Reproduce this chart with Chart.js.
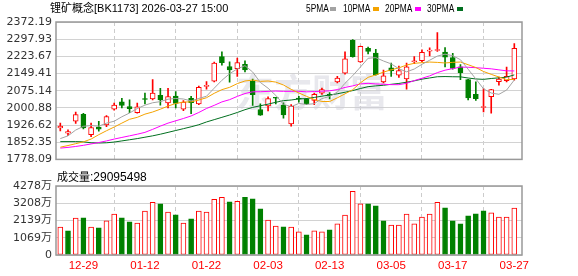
<!DOCTYPE html>
<html>
<head>
<meta charset="utf-8">
<script src="https://cdn.jsdelivr.net/npm/chart.js@4.4.1/dist/chart.umd.min.js"></script>
<style>
  html, body { margin: 0; padding: 0; background: #fff; }
  #wrap { position: relative; width: 578px; height: 276px; overflow: hidden; }
  canvas { position: absolute; left: 0; }
  #kline { top: 0; }
  #vol { top: 170px; }
  .txt { position: absolute; white-space: nowrap; color: #000; font-size: 11px; line-height: 12px;
         font-family: "Liberation Sans", "Noto Sans CJK SC", sans-serif; }
  .leg { transform: scaleX(0.76); transform-origin: left top; }
  .sw { position: absolute; width: 6px; height: 4px; }
</style>
</head>
<body>
<div id="wrap">
  <canvas id="kline" width="578" height="170"></canvas>
  <canvas id="vol" width="578" height="106"></canvas>
  <div class="txt" style="left:50px; top:2px">锂矿概念[BK1173] 2026-03-27 15:00</div>
  <div id="legend"></div>
  <div class="txt" style="left:57px; top:171px">成交量<span style="font-size:12px">:<span id="lastVol"></span></span></div>
</div>
<script>
// trading days shown
const DATES = [
  "12-24", "12-25", "12-26", "12-29", "12-30", "12-31", "01-05", "01-06", "01-07", "01-08",
  "01-09", "01-12", "01-13", "01-14", "01-15", "01-16", "01-19", "01-20", "01-21", "01-22",
  "01-23", "01-26", "01-27", "01-28", "01-29", "01-30", "02-02", "02-03", "02-04", "02-05",
  "02-06", "02-09", "02-10", "02-11", "02-12", "02-13", "02-24", "02-25", "02-26", "02-27",
  "03-02", "03-03", "03-04", "03-05", "03-06", "03-09", "03-10", "03-11", "03-12", "03-13",
  "03-16", "03-17", "03-18", "03-19", "03-20", "03-23", "03-24", "03-25", "03-26", "03-27"
];

const OPEN = [
  1913.8, 1891.6, 1942.9, 1973.4, 1884.7, 1918.0, 1927.7, 1995.5, 2027.4, 2006.6,
  1980.3, 2041.2, 2039.8, 2055.1, 2021.8, 2052.3, 1995.5, 2042.6, 2017.7, 2093.9,
  2116.0, 2222.6, 2179.7, 2170.0, 2189.4, 2116.0, 1994.0, 2009.5, 2045.0, 2013.0,
  1931.8, 2041.2, 2038.5, 2032.9, 2064.8, 2059.2, 2113.2, 2150.6, 2293.3, 2199.1,
  2258.6, 2237.9, 2113.2, 2174.2, 2142.3, 2125.7, 2200.5, 2204.6, 2246.2, 2249.0,
  2242.0, 2218.5, 2178.3, 2122.9, 2059.2, 2002.4, 2049.5, 2114.6, 2118.8, 2125.7
];
const HIGH = [
  1934.6, 1905.5, 1983.1, 1977.5, 1934.6, 1942.9, 1967.8, 2021.8, 2042.6, 2035.7,
  2021.8, 2064.8, 2122.9, 2085.5, 2085.5, 2071.7, 2032.9, 2050.9, 2095.2, 2114.6,
  2199.1, 2243.4, 2200.5, 2215.7, 2204.6, 2125.0, 2018.0, 2049.0, 2047.0, 2023.0,
  2014.9, 2050.9, 2042.6, 2064.8, 2086.9, 2067.5, 2136.8, 2243.4, 2296.0, 2268.3,
  2264.2, 2254.5, 2164.5, 2194.9, 2181.1, 2194.9, 2222.6, 2251.7, 2260.0, 2326.5,
  2261.4, 2236.5, 2188.0, 2124.3, 2113.2, 2084.2, 2081.4, 2134.0, 2176.9, 2279.4
];
const LOW = [
  1901.4, 1880.6, 1933.2, 1909.7, 1876.4, 1900.0, 1919.4, 1991.4, 2001.1, 1980.3,
  1977.5, 2017.7, 2035.7, 2012.1, 2001.1, 2001.1, 1988.6, 1976.1, 2014.9, 2081.4,
  2113.2, 2185.2, 2111.8, 2136.8, 2156.2, 2011.0, 1968.0, 1988.0, 2018.0, 1956.0,
  1922.1, 2026.0, 2014.9, 2014.9, 2059.2, 2039.8, 2109.1, 2146.5, 2219.9, 2197.7,
  2233.7, 2142.3, 2109.1, 2136.8, 2132.6, 2081.4, 2192.2, 2199.1, 2225.4, 2244.8,
  2178.3, 2168.6, 2122.9, 2035.7, 2032.9, 1983.1, 1977.5, 2099.4, 2113.2, 2120.2
];
const CLOSE = [
  1922.1, 1898.6, 1972.0, 1913.8, 1916.0, 1908.3, 1963.7, 2013.5, 2011.0, 1996.9,
  2005.2, 2037.1, 2064.8, 2035.7, 2049.5, 2020.4, 2025.9, 2023.2, 2089.7, 2096.6,
  2194.9, 2196.3, 2164.5, 2196.3, 2164.5, 2058.0, 1969.5, 2041.0, 2042.5, 1970.0,
  2008.0, 2038.5, 2019.1, 2059.2, 2080.0, 2055.1, 2129.8, 2212.9, 2222.6, 2266.9,
  2244.8, 2143.7, 2139.5, 2160.3, 2162.0, 2178.3, 2204.6, 2240.6, 2249.0, 2251.7,
  2219.9, 2171.4, 2153.4, 2044.0, 2041.0, 2006.6, 2080.0, 2125.7, 2136.8, 2258.6
];
const PREV_CLOSE = 1905;   // close before the first bar, only used for the first volume colour

// volume in 万股
const VOLUME = [
  1728, 1500, 2284, 2303, 1728, 1685, 2117, 2531, 2303, 2056,
  1975, 2716, 3272, 3167, 2654, 2488, 1975, 2241, 2716, 2654,
  3457, 3580, 3290, 3333, 3580, 3475, 2858, 2160, 1790, 1747,
  1728, 1438, 1253, 1500, 1438, 1562, 1932, 2469, 3951, 3167,
  3167, 3043, 2117, 1852, 1852, 2531, 1932, 2346, 2531, 3272,
  2920, 2117, 1932, 2426, 2549, 2735, 2611, 2346, 2346, 2909.5498
];

const MA5 = [
  1868, 1880, 1905, 1921, 1924.5, 1921.7, 1934.8, 1943.1, 1962.5, 1978.7,
  1998.1, 2012.7, 2023.0, 2027.9, 2038.5, 2041.5, 2039.3, 2030.9, 2041.7, 2051.2,
  2086.1, 2120.1, 2148.4, 2169.7, 2183.3, 2155.9, 2110.6, 2085.9, 2055.1, 2016.2,
  2006.2, 2020.0, 2015.6, 2019.0, 2041.0, 2050.4, 2068.6, 2107.4, 2140.1, 2177.5,
  2215.4, 2218.2, 2203.5, 2191.0, 2170.1, 2156.8, 2168.9, 2189.2, 2206.9, 2224.8,
  2233.2, 2226.5, 2209.1, 2168.1, 2125.9, 2083.3, 2065.0, 2059.5, 2078.0, 2121.5
];
const MA10 = [
  1831, 1838, 1846, 1854, 1866, 1885, 1902, 1918, 1935, 1951.6,
  1959.9, 1973.8, 1983.0, 1995.2, 2008.6, 2019.8, 2026.0, 2027.0, 2034.8, 2044.8,
  2063.8, 2079.7, 2089.7, 2105.7, 2117.2, 2121.0, 2115.4, 2117.1, 2112.4, 2099.8,
  2081.1, 2065.3, 2050.7, 2037.0, 2028.6, 2028.3, 2044.3, 2061.5, 2079.5, 2109.2,
  2132.9, 2143.4, 2155.5, 2165.6, 2173.8, 2186.1, 2193.6, 2196.3, 2199.0, 2197.5,
  2195.0, 2197.7, 2199.1, 2187.5, 2175.4, 2158.2, 2145.8, 2134.3, 2123.1, 2123.7
];
const MA20 = [
  1827, 1830, 1834, 1839, 1845, 1851, 1858, 1866, 1873, 1880,
  1887, 1895, 1908, 1922, 1935, 1945, 1955, 1966, 1981, 1998.2,
  2011.8, 2026.7, 2036.4, 2050.5, 2062.9, 2070.4, 2070.7, 2072.1, 2073.6, 2072.3,
  2072.4, 2072.5, 2070.2, 2071.4, 2072.9, 2074.6, 2079.8, 2089.3, 2096.0, 2104.5,
  2107.0, 2104.3, 2103.1, 2101.3, 2101.2, 2107.2, 2118.9, 2128.9, 2139.2, 2153.3,
  2163.9, 2170.6, 2177.3, 2176.5, 2174.6, 2172.2, 2169.7, 2165.3, 2161.0, 2160.6
];
const MA30 = [
  1855, 1855, 1855, 1854, 1850, 1849, 1850, 1853, 1858, 1863,
  1868, 1874, 1880, 1887, 1895, 1903, 1911, 1919, 1928, 1940,
  1950, 1960, 1970, 1981, 1993, 2003, 2010, 2017, 2025, 2032.1,
  2034.9, 2039.6, 2041.1, 2046.0, 2051.5, 2056.4, 2061.9, 2068.5, 2075.6, 2084.6,
  2092.6, 2096.1, 2098.6, 2102.8, 2106.5, 2111.8, 2117.7, 2125.0, 2130.3, 2135.5,
  2136.3, 2135.5, 2135.1, 2130.0, 2125.9, 2124.2, 2127.9, 2130.7, 2133.8, 2143.5
];

const PRICE_TICKS = [1778.09, 1852.35, 1926.62, 2000.88, 2075.14, 2149.41, 2223.67, 2297.93, 2372.19];
const VOL_TICKS = [0, 1069, 2139, 3208, 4278];

const MA_LINES = [
  { name: "5PMA", values: MA5, color: "#a3a3a3" },
  { name: "10PMA", values: MA10, color: "#f4a300" },
  { name: "20PMA", values: MA20, color: "#ff00ff" },
  { name: "30PMA", values: MA30, color: "#006f1f" }
];

const RED = "#ff0000";
const GREEN = "#008000";
const xs = DATES.map((d, i) => i + 1);
const up = CLOSE.map((c, i) => c >= OPEN[i]);
const volUp = CLOSE.map((c, i) => c >= (i ? CLOSE[i - 1] : PREV_CLOSE));

// legend (text, then a small colour block after it)
const LEGEND_X = [306, 343, 385, 427];
const SWATCH_X = [330, 373, 415, 457];
const legend = document.getElementById("legend");
MA_LINES.forEach((m, i) => {
  const t = document.createElement("div");
  t.className = "txt leg";
  t.style.left = LEGEND_X[i] + "px";
  t.style.top = "2px";
  t.textContent = m.name;
  legend.appendChild(t);
  const s = document.createElement("div");
  s.className = "sw";
  s.style.left = SWATCH_X[i] + "px";
  s.style.top = "7px";
  s.style.background = m.color;
  legend.appendChild(s);
});
document.getElementById("lastVol").textContent = Math.round(VOLUME[VOLUME.length - 1] * 10000);

const AXIS_FONT = { family: "'DejaVu Sans', 'Noto Sans CJK SC'", size: 11 };

const frame = {
  id: "frame",
  afterDraw(chart) {
    const { ctx, chartArea: a } = chart;
    ctx.save();
    ctx.strokeStyle = "#999";
    ctx.lineWidth = 1.5;
    ctx.strokeRect(a.left, a.top, a.right - a.left, a.bottom - a.top);
    ctx.restore();
  }
};

const watermark = {
  id: "watermark",
  beforeDatasetsDraw(chart) {
    const { ctx } = chart;
    ctx.save();
    ctx.font = "bold 38px 'Noto Sans CJK SC'";
    ctx.fillStyle = "rgba(205, 205, 215, 0.45)";
    ctx.textAlign = "center";
    ctx.textBaseline = "middle";
    ctx.fillText("东方财富", 312, 92);
    ctx.restore();
  }
};

function xScale(withLabels) {
  return {
    type: "linear",
    min: 0.44,
    max: 61,
    offset: false,
    afterBuildTicks: (s) => { s.ticks = xs.filter((v) => v % 8 === 4).map((v) => ({ value: v })); },
    afterFit: (s) => { s.height = withLabels ? 21 : 0; },
    grid: { color: "#cccccc", drawTicks: false },
    border: { display: false, dash: [4, 3] },
    ticks: withLabels
      ? { autoSkip: false, maxRotation: 0, padding: 4, color: RED,
          font: { family: "'Liberation Sans'", size: 11.5 },
          callback: (v) => DATES[v - 1] }
      : { display: false }
  };
}

function yScale(min, max, ticks, fmt) {
  return {
    min: min,
    max: max,
    afterBuildTicks: (s) => { s.ticks = ticks.map((v) => ({ value: v })); },
    afterFit: (s) => { s.width = 56; },
    grid: { color: "#d2d2d2", drawTicks: false },
    border: { display: false },
    ticks: { padding: 4, color: "#333", font: AXIS_FONT, callback: fmt }
  };
}

const common = {
  responsive: false,
  devicePixelRatio: 1,
  animation: false,
  events: [],
  plugins: { legend: { display: false }, tooltip: { enabled: false } }
};

new Chart(document.getElementById("kline"), {
  type: "bar",
  data: {
    datasets: [
      {
        // wicks
        data: xs.map((x, i) => ({ x: x, y: [LOW[i], HIGH[i]] })),
        backgroundColor: up.map((u) => (u ? RED : GREEN)),
        barThickness: 1,
        grouped: false,
        order: 3
      },
      {
        // bodies
        data: xs.map((x, i) => ({ x: x, y: [OPEN[i], CLOSE[i]] })),
        backgroundColor: up.map((u) => (u ? "#ffffff" : GREEN)),
        borderColor: up.map((u) => (u ? RED : GREEN)),
        borderWidth: 1,
        borderSkipped: false,
        barThickness: 5,
        minBarLength: 1,
        grouped: false,
        order: 2
      },
      ...MA_LINES.map((m) => ({
        type: "line",
        data: xs.map((x, i) => ({ x: x, y: m.values[i] })),
        borderColor: m.color,
        borderWidth: 1,
        pointRadius: 0,
        tension: 0,
        order: 1
      }))
    ]
  },
  options: {
    ...common,
    layout: { padding: { left: 0, right: 56, top: 22, bottom: 5 } },
    scales: {
      x: xScale(false),
      y: yScale(PRICE_TICKS[0], PRICE_TICKS[PRICE_TICKS.length - 1], PRICE_TICKS, (v) => v.toFixed(2))
    }
  },
  plugins: [watermark, frame]
});

new Chart(document.getElementById("vol"), {
  type: "bar",
  data: {
    datasets: [
      {
        data: xs.map((x, i) => ({ x: x, y: VOLUME[i] })),
        backgroundColor: volUp.map((u) => (u ? "#ffffff" : GREEN)),
        borderColor: volUp.map((u) => (u ? RED : GREEN)),
        borderWidth: 1,
        borderSkipped: false,
        barThickness: 5,
        grouped: false
      }
    ]
  },
  options: {
    ...common,
    layout: { padding: { left: 0, right: 56, top: 16, bottom: 0 } },
    scales: {
      x: xScale(true),
      y: yScale(0, VOL_TICKS[VOL_TICKS.length - 1], VOL_TICKS, (v) => (v === 0 ? "0" : v + "万"))
    }
  },
  plugins: [frame]
});
</script>
</body>
</html>
